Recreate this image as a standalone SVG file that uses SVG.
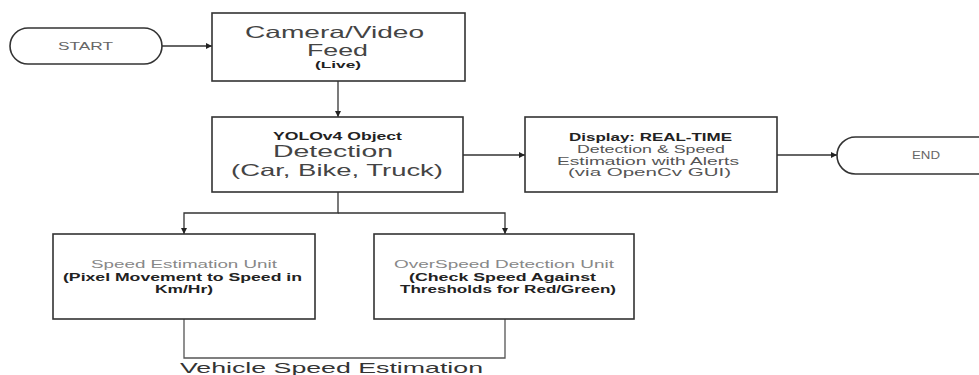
<svg xmlns="http://www.w3.org/2000/svg" width="979" height="375" viewBox="0 0 979 375">
<defs>
<marker id="arr" viewBox="0 0 10 10" refX="10" refY="5" markerWidth="6" markerHeight="6" orient="auto" markerUnits="userSpaceOnUse">
<path d="M0,0 L10,5 L0,10 z" fill="#222"/>
</marker>
</defs>
<style>
.box{fill:#fff;stroke:#333;stroke-width:1.6}
.ln{fill:none;stroke:#333;stroke-width:1.3}
.t{font-family:"Liberation Sans",Arial,sans-serif;text-anchor:middle}
.big{font-size:16.5px;fill:#444}
.sm{font-size:10.5px;fill:#555}
.b{font-size:11px;font-weight:bold;fill:#222}
.g{font-size:11.5px;fill:#888}
</style>
<rect width="979" height="375" fill="#fff"/>
<g id="connectors">
<line class="ln" x1="162" y1="46" x2="212" y2="46" marker-end="url(#arr)"/>
<line class="ln" x1="338" y1="81" x2="338" y2="117" marker-end="url(#arr)"/>
<line class="ln" x1="463" y1="155" x2="525" y2="155" marker-end="url(#arr)"/>
<line class="ln" x1="777" y1="155" x2="837" y2="155" marker-end="url(#arr)"/>
<polyline class="ln" points="338,192 338,213 184,213 184,234" marker-end="url(#arr)"/>
<polyline class="ln" points="338,213 505,213 505,234" marker-end="url(#arr)"/>
<polyline class="ln" points="184,319 184,358 505,358 505,319" style="stroke:#555"/>
</g>
<g id="start">
<rect class="box" x="10" y="28" width="152" height="36" rx="18" ry="18"/>
<text class="t sm" x="85.5" y="50" style="font-size:11px;fill:#666" textLength="55" lengthAdjust="spacingAndGlyphs">START</text>
</g>
<g id="camera">
<rect class="box" x="212" y="13" width="253" height="68"/>
<text class="t big" x="334.5" y="38" textLength="179" lengthAdjust="spacingAndGlyphs">Camera/Video</text>
<text class="t big" x="337.5" y="56" textLength="61" lengthAdjust="spacingAndGlyphs">Feed</text>
<text class="t b" x="338" y="68" style="font-size:9.5px" textLength="46" lengthAdjust="spacingAndGlyphs">(Live)</text>
</g>
<g id="yolo">
<rect class="box" x="212" y="117" width="251" height="75"/>
<text class="t b" x="337.5" y="140" textLength="129" lengthAdjust="spacingAndGlyphs">YOLOv4 Object</text>
<text class="t big" x="333" y="157" textLength="120" lengthAdjust="spacingAndGlyphs">Detection</text>
<text class="t big" x="337" y="176" textLength="212" lengthAdjust="spacingAndGlyphs">(Car, Bike, Truck)</text>
</g>
<g id="display">
<rect class="box" x="525" y="117" width="252" height="75"/>
<text class="t b" x="650.5" y="141" style="font-size:10.5px" textLength="163" lengthAdjust="spacingAndGlyphs">Display: REAL-TIME</text>
<text class="t sm" x="651" y="153" textLength="148" lengthAdjust="spacingAndGlyphs">Detection &amp; Speed</text>
<text class="t sm" x="648" y="164.5" textLength="182" lengthAdjust="spacingAndGlyphs">Estimation with Alerts</text>
<text class="t sm" x="649.5" y="176" textLength="163" lengthAdjust="spacingAndGlyphs">(via OpenCv GUI)</text>
</g>
<g id="end">
<rect class="box" x="837" y="137" width="178" height="37" rx="18.5" ry="18.5"/>
<text class="t sm" x="926" y="159" style="font-size:11px;fill:#666" textLength="28" lengthAdjust="spacingAndGlyphs">END</text>
</g>
<g id="speed">
<rect class="box" x="53" y="234" width="262" height="85"/>
<text class="t g" x="184" y="268" textLength="186" lengthAdjust="spacingAndGlyphs">Speed Estimation Unit</text>
<text class="t b" x="182.5" y="280.5" textLength="239" lengthAdjust="spacingAndGlyphs">(Pixel Movement to Speed in</text>
<text class="t b" x="184" y="293" textLength="58" lengthAdjust="spacingAndGlyphs">Km/Hr)</text>
</g>
<g id="overspeed">
<rect class="box" x="374" y="234" width="260" height="85"/>
<text class="t g" x="504" y="268" textLength="220" lengthAdjust="spacingAndGlyphs">OverSpeed Detection Unit</text>
<text class="t b" x="502.5" y="280.5" textLength="187" lengthAdjust="spacingAndGlyphs">(Check Speed Against</text>
<text class="t b" x="508" y="293" textLength="216" lengthAdjust="spacingAndGlyphs">Thresholds for Red/Green)</text>
</g>
<g id="label">
<text class="t big" x="331.5" y="373" style="font-size:15px;fill:#333" textLength="303" lengthAdjust="spacingAndGlyphs">Vehicle Speed Estimation</text>
</g>
</svg>
